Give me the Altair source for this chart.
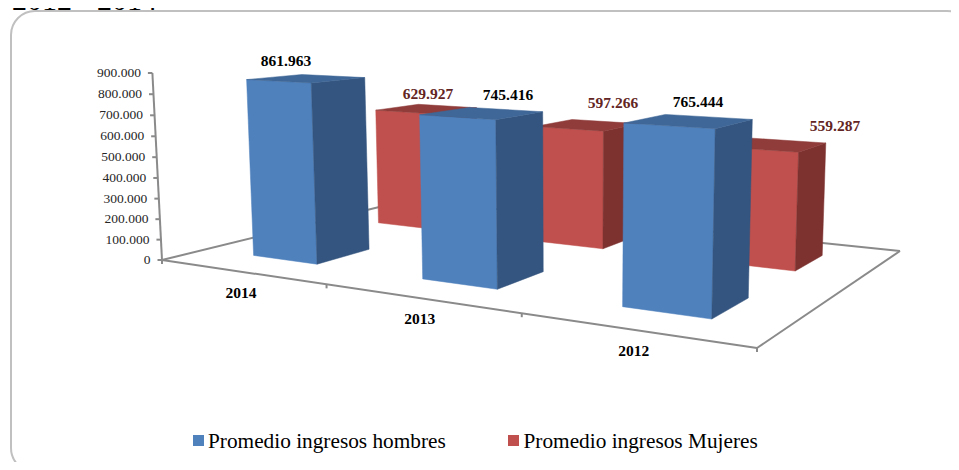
import altair as alt
import pandas as pd

# ---- values ----
years = ["2014", "2013", "2012"]
hombres = [861963, 745416, 765444]
mujeres = [629927, 597266, 559287]
hombres_txt = ["861.963", "745.416", "765.444"]
mujeres_txt = ["629.927", "597.266", "559.287"]
axis_ticks = [0, 100000, 200000, 300000, 400000, 500000, 600000, 700000, 800000, 900000]
axis_labels = ["0", "100.000", "200.000", "300.000", "400.000", "500.000", "600.000", "700.000", "800.000", "900.000"]
series_names = ["Promedio ingresos hombres", "Promedio ingresos Mujeres"]
heading = "2012 - 2014"

# ---- perspective camera (category u, depth t, value h) -> page pixel ----
OFF = 8
FLOOR = [(162, 260), (757, 348), (900, 251), (408, 200)]
(x0, y0), (x1, y1), (x2, y2), (x3, y3) = FLOOR
dx1, dx2, sx = x1 - x2, x3 - x2, x0 - x1 + x2 - x3
dy1, dy2, sy = y1 - y2, y3 - y2, y0 - y1 + y2 - y3
det = dx1 * dy2 - dx2 * dy1
g = (sx * dy2 - dx2 * sy) / det
k = (dx1 * sy - sx * dy1) / det
a, b, c = x1 - x0 + g * x1, x3 - x0 + k * x3, x0
d, e, f = y1 - y0 + g * y1, y3 - y0 + k * y3, y0
VX, VY = 570, 8200
KH = -0.02301 / 900000


def cam(u, t, h=0):
    s = u / 3
    m = KH * h
    w = g * s + k * t + 1 + m
    return [(a * s + b * t + c + m * VX) / w - OFF, (d * s + e * t + f + m * VY) / w - OFF]


def poly(corners, color):
    ring = [cam(*p) for p in corners]
    ring.append(ring[0])
    return {"type": "Feature", "properties": {"color": color},
            "geometry": {"type": "Polygon", "coordinates": [ring]}}


def seg(p, q):
    return {"type": "Feature", "properties": {},
            "geometry": {"type": "LineString", "coordinates": [p, q]}}


U0, U1 = 0.304, 0.698
BLUE = ("#4F81BD", "#34557F", "#3F6797")
RED = ("#C0504D", "#7D3230", "#8F3C3A")


def box(i, h, t0, t1, cols):
    u0, u1 = i + U0, i + U1
    return [
        poly([(u0, t0, 0), (u1, t0, 0), (u1, t0, h), (u0, t0, h)], cols[0]),
        poly([(u1, t0, 0), (u1, t1, 0), (u1, t1, h), (u1, t0, h)], cols[1]),
        poly([(u0, t0, h), (u1, t0, h), (u1, t1, h), (u0, t1, h)], cols[2]),
    ]


faces = []
for i, v in enumerate(mujeres):
    faces += box(i, v, 0.65, 0.85, RED)
for i, v in enumerate(hombres):
    faces += box(i, v, 0.15, 0.35, BLUE)

lines = [
    seg(cam(0, 0, 0), cam(0, 0, 900000)),
    seg(cam(0, 0), cam(3, 0)),
    seg(cam(3, 0), cam(3, 1)),
    seg(cam(3, 1), cam(0, 1)),
    seg(cam(0, 1), cam(0, 0)),
]
for h in axis_ticks:
    p = cam(0, 0, h)
    lines.append(seg(p, [p[0] - 4.5, p[1]]))
for i in range(4):
    p = cam(i, 0)
    lines.append(seg(p, [p[0], p[1] + 4]))

PROJ = dict(type="identity", scale=1, translate=[0, 0])
X = alt.X("x:Q", scale=None, axis=None)
Y = alt.Y("y:Q", scale=None, axis=None)
FONT = "Liberation Serif"

line_layer = alt.Chart(alt.Data(values=lines)).mark_geoshape(
    filled=False, stroke="#8A8A8A", strokeWidth=2
).project(**PROJ)
face_layer = alt.Chart(alt.Data(values=faces)).mark_geoshape(strokeWidth=0.5).encode(
    fill=alt.Fill("properties.color:N", scale=None),
    stroke=alt.Stroke("properties.color:N", scale=None),
).project(**PROJ)

# tick labels follow the value axis
tick_df = pd.DataFrame({
    "x": [cam(0, 0, h)[0] - 11.5 for h in axis_ticks],
    "y": [cam(0, 0, h)[1] for h in axis_ticks],
    "t": axis_labels,
})
tick_text = alt.Chart(tick_df).mark_text(
    font=FONT, fontSize=13.5, align="right", baseline="middle", color="#262626"
).encode(x=X, y=Y, text="t:N")

# category labels follow the front edge
cat_df = pd.DataFrame({
    "x": [cam(i + 0.5, 0)[0] for i in range(3)],
    "y": [cam(i + 0.5, 0)[1] + 26 for i in range(3)],
    "t": years,
})
cat_text = alt.Chart(cat_df).mark_text(
    font=FONT, fontSize=15.5, fontWeight="bold", align="center", baseline="alphabetic", color="black"
).encode(x=X, y=Y, text="t:N")

# data labels
blue_pos = [(286, 66), (508, 100), (698, 107)]
red_pos = [(428, 99), (613, 108), (835, 131)]
blue_df = pd.DataFrame({"x": [p[0] - OFF for p in blue_pos], "y": [p[1] - OFF for p in blue_pos], "t": hombres_txt})
red_df = pd.DataFrame({"x": [p[0] - OFF for p in red_pos], "y": [p[1] - OFF for p in red_pos], "t": mujeres_txt})
blue_text = alt.Chart(blue_df).mark_text(
    font=FONT, fontSize=15.5, fontWeight="bold", align="center", baseline="alphabetic", color="black"
).encode(x=X, y=Y, text="t:N")
red_text = alt.Chart(red_df).mark_text(
    font=FONT, fontSize=15.5, fontWeight="bold", align="center", baseline="alphabetic", color="#632523"
).encode(x=X, y=Y, text="t:N")

# legend
leg_df = pd.DataFrame({
    "x": [193 - OFF, 508 - OFF], "x2": [204 - OFF, 519 - OFF],
    "y": [435 - OFF, 435 - OFF], "y2": [446 - OFF, 446 - OFF],
    "tx": [208 - OFF, 523.5 - OFF], "ty": [448 - OFF, 448 - OFF],
    "name": series_names, "color": ["#4F81BD", "#C0504D"],
})
leg_rect = alt.Chart(leg_df).mark_rect().encode(
    x=X, x2="x2:Q", y=Y, y2="y2:Q", fill=alt.Fill("color:N", scale=None)
)
leg_text = alt.Chart(leg_df).mark_text(
    font=FONT, fontSize=21.3, align="left", baseline="alphabetic", color="black"
).encode(x=alt.X("tx:Q", scale=None, axis=None), y=alt.Y("ty:Q", scale=None, axis=None), text="name:N")

# panel frame
frame = alt.Chart(pd.DataFrame({"x": [3], "x2": [963], "y": [3], "y2": [464]})).mark_rect(
    cornerRadius=24, fillOpacity=0, stroke="#C0C0C0", strokeWidth=2
).encode(x=X, x2="x2:Q", y=Y, y2="y2:Q")

# heading: only its lowest edge shows at the top of the page, as in the reference
head = alt.Chart(pd.DataFrame({"x": [4], "y": [1.5], "t": [heading]})).mark_text(
    font=FONT, fontSize=30, align="left", baseline="alphabetic", color="black"
).encode(x=X, y=Y, text="t:N")

chart = alt.layer(
    frame, line_layer, face_layer, tick_text, cat_text, blue_text, red_text, leg_rect, leg_text, head
).properties(
    width=943, height=454, padding=0, background="white",
    autosize=alt.AutoSizeParams(type="none"),
).configure_view(strokeWidth=0)

chart.save("out.html", embed_options={"renderer": "svg", "actions": False})
